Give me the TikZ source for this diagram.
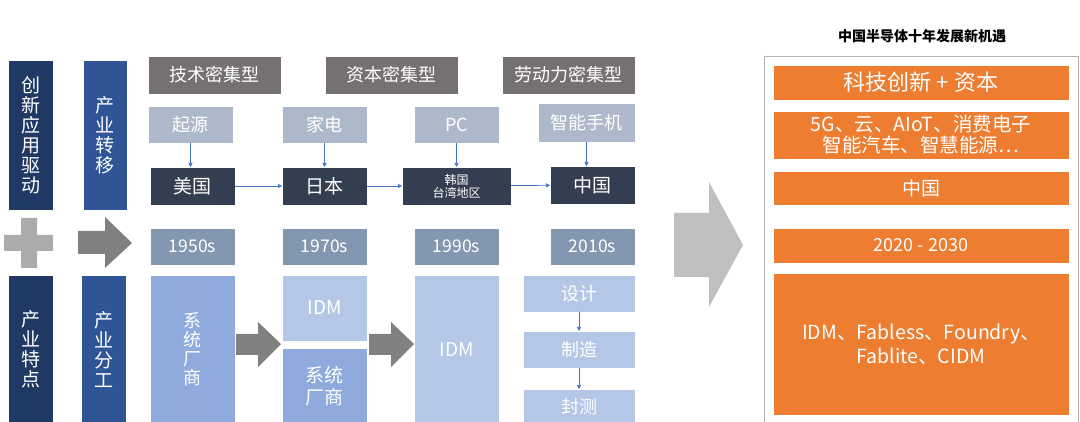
\documentclass[tikz,border=0pt]{standalone}
\usepackage{fontspec}
\setmainfont{Noto Sans CJK SC}
\usetikzlibrary{arrows.meta}
\definecolor{navy}{HTML}{203864}
\definecolor{mblue}{HTML}{2F5597}
\definecolor{hdr}{HTML}{767171}
\definecolor{lgb}{HTML}{ADB9CA}
\definecolor{dk}{HTML}{333F50}
\definecolor{yr}{HTML}{8497B0}
\definecolor{sb}{HTML}{8FAADC}
\definecolor{lb}{HTML}{B4C7E7}
\definecolor{org}{HTML}{ED7D31}
\definecolor{arr}{HTML}{4472C4}
\newcommand\bx[7]{\node[draw=white,line width=0.6pt,inner sep=0pt,outer sep=0pt,align=center,text=white,fill=#6,minimum width={(#4-#2)*1pt},minimum height={(#5-#3)*1pt},font=#7] (#1) at ({(#2+#4)/2},{(#3+#5)/2})}
\tikzset{lk/.style={-{Triangle[length=4pt,width=4pt]},draw=arr,line width=0.7pt}}
\begin{document}
\begin{tikzpicture}[x=1pt,y=-1pt]
\useasboundingbox (0,0) rectangle (1080,422);
% left columns
\bx{c1}{8}{60}{53}{210}{navy}{\fontsize{19}{20}\selectfont}{创\\新\\应\\用\\驱\\动};
\bx{c2}{83}{60}{127}{210}{mblue}{\fontsize{19}{20}\selectfont}{产\\业\\转\\移};
\bx{c3}{8}{275}{53}{424}{navy}{\fontsize{19}{20}\selectfont}{产\\业\\特\\点};
\bx{c4}{81}{275}{126}{424}{mblue}{\fontsize{19}{20}\selectfont}{产\\业\\分\\工};
\fill[gray!65] (4,235) rectangle (53,251) (21,218) rectangle (37,268);
\fill[gray] (78,231) -- (105,231) -- (105,217) -- (132,243) -- (105,268) -- (105,254) -- (78,254) -- cycle;
% headers
\bx{h1}{148}{56}{281}{94}{hdr}{\fontsize{18}{19}\selectfont}{技术密集型};
\bx{h2}{325}{56}{458}{94}{hdr}{\fontsize{18}{19}\selectfont}{资本密集型};
\bx{h3}{502}{56}{635}{94}{hdr}{\fontsize{18}{19}\selectfont}{劳动力密集型};
% row 2
\bx{a1}{148}{106}{233}{143}{lgb}{\fontsize{18}{19}\selectfont}{起源};
\bx{a2}{282}{106}{367}{143}{lgb}{\fontsize{18}{19}\selectfont}{家电};
\bx{a3}{414}{106}{499}{143}{lgb}{\fontsize{18}{19}\selectfont}{PC};
\bx{a4}{538}{103}{635}{142}{lgb}{\fontsize{18}{19}\selectfont}{智能手机};
% row 3
\bx{b1}{150}{167}{235}{205}{dk}{\fontsize{19}{20}\selectfont}{美国};
\bx{b2}{282}{167}{367}{205}{dk}{\fontsize{19}{20}\selectfont}{日本};
\bx{b3}{402}{167}{511}{205}{dk}{\fontsize{12}{13}\selectfont}{韩国\\台湾地区};
\bx{b4}{550}{166}{635}{204}{dk}{\fontsize{19}{20}\selectfont}{中国};
\draw[lk] (a1) -- (a1|-b1.north);
\draw[lk] (a2) -- (a2|-b2.north);
\draw[lk] (a3) -- (a3|-b3.north);
\draw[lk] (a4) -- (a4|-b4.north);
\draw[lk] (b1) -- (b2);
\draw[lk] (b2) -- (b3);
\draw[lk] (b3) -- (b4);
% years
\bx{y1}{150}{228}{235}{265}{yr}{\fontsize{17.5}{18}\selectfont}{1950s};
\bx{y2}{282}{228}{367}{265}{yr}{\fontsize{17.5}{18}\selectfont}{1970s};
\bx{y3}{414}{228}{499}{265}{yr}{\fontsize{17.5}{18}\selectfont}{1990s};
\bx{y4}{550}{228}{635}{265}{yr}{\fontsize{17.5}{18}\selectfont}{2010s};
% bottom
\bx{d1}{150}{275}{235}{424}{sb}{\fontsize{18}{19}\selectfont}{系\\统\\厂\\商};
\bx{d2}{282}{275}{367}{341}{lb}{\fontsize{19}{20}\selectfont}{IDM};
\bx{d3}{282}{348}{367}{424}{sb}{\fontsize{19}{22}\selectfont}{系统\\厂商};
\bx{d4}{414}{275}{499}{424}{lb}{\fontsize{19}{20}\selectfont}{IDM};
\bx{e1}{523}{275}{635}{312}{lb}{\fontsize{18}{19}\selectfont}{设计};
\bx{e2}{523}{331}{635}{368}{lb}{\fontsize{18}{19}\selectfont}{制造};
\bx{e3}{523}{389}{635}{424}{lb}{\fontsize{18}{19}\selectfont}{封测};
\draw[lk] (e1.south-|579,0) -- (e2.north-|579,0);
\draw[lk] (e2.south-|579,0) -- (e3.north-|579,0);
\fill[gray] (236,334) -- (258,334) -- (258,322) -- (281,344) -- (258,367) -- (258,355) -- (236,355) -- cycle;
\fill[gray] (369,334) -- (391,334) -- (391,322) -- (414,344) -- (391,367) -- (391,355) -- (369,355) -- cycle;
% big arrow
\fill[gray!50] (674,213) -- (709,213) -- (709,182) -- (743,245) -- (709,307) -- (709,277) -- (674,277) -- cycle;
% right
\node[font=\bfseries\fontsize{14}{15}\selectfont] (t) at (922,36) {中国半导体十年发展新机遇};
\draw[gray!60,line width=0.8pt] (764,56) -- (764,424) (764,56) -- (1078,56) -- (1078,424);
\bx{r1}{773}{65}{1069}{100}{org}{\fontsize{22}{23}\selectfont}{科技创新 + 资本};
\bx{r2}{773}{111}{1069}{159}{org}{\fontsize{19.5}{21}\selectfont}{5G、云、AIoT、消费电子\\智能汽车、智慧能源…};
\bx{r3}{773}{171}{1069}{205}{org}{\fontsize{19}{20}\selectfont}{中国};
\bx{r4}{773}{228}{1069}{263}{org}{\fontsize{18}{19}\selectfont}{2020 - 2030};
\bx{r5}{773}{273}{1069}{415}{org}{\fontsize{19.5}{24}\selectfont}{IDM、Fabless、Foundry、\\Fablite、CIDM};
\end{tikzpicture}
\end{document}
